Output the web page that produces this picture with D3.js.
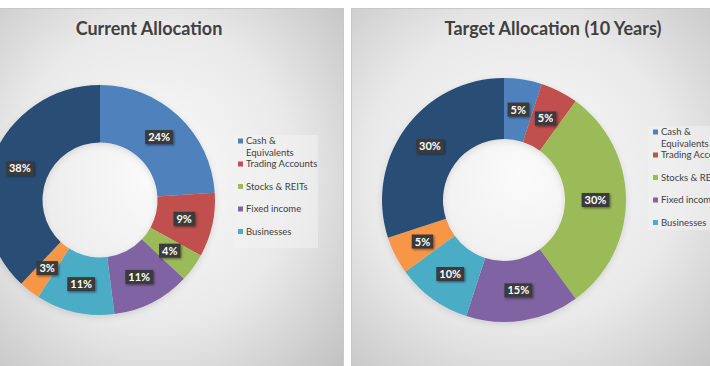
<!DOCTYPE html>
<html>
<head>
<meta charset="utf-8">
<script src="https://cdn.jsdelivr.net/npm/d3@7"></script>
<style>
  html, body { margin: 0; padding: 0; background: #ffffff; }
  svg { display: block; }
</style>
</head>
<body>
<svg id="chart" width="710" height="366"></svg>
<script>
// ---- data ----
const categories = ["Cash & Equivalents", "Trading Accounts", "Stocks & REITs", "Fixed income", "Businesses", "Category 6", "Category 7"];
const legendCategories = ["Cash & Equivalents", "Trading Accounts", "Stocks & REITs", "Fixed income", "Businesses"];
const currentValues = [24, 9, 4, 11, 11, 3, 38];
const targetValues = [5, 5, 30, 15, 10, 5, 30];
const chartTitles = ["Current Allocation", "Target Allocation (10 Years)"];

// ---- style ----
const colors = ["#4F81BD", "#C0504D", "#9BBB59", "#8064A2", "#4BACC6", "#F79646", "#2C4D75"];
const color = d3.scaleOrdinal().domain(categories).range(colors);
const FONT = "Lato, 'Open Sans', 'DejaVu Sans', sans-serif";

const svg = d3.select("#chart");
const defs = svg.append("defs");

const grad = defs.append("radialGradient").attr("id", "panelGrad")
  .attr("cx", "45%").attr("cy", "45%").attr("r", "75%");
grad.append("stop").attr("offset", "0%").attr("stop-color", "#fbfbfb");
grad.append("stop").attr("offset", "55%").attr("stop-color", "#e9e9e9");
grad.append("stop").attr("offset", "100%").attr("stop-color", "#c2c2c2");

const shadow = defs.append("filter").attr("id", "lblShadow")
  .attr("x", "-30%").attr("y", "-30%").attr("width", "170%").attr("height", "170%");
shadow.append("feDropShadow").attr("dx", 1.2).attr("dy", 1.2).attr("stdDeviation", 1)
  .attr("flood-color", "#000").attr("flood-opacity", 0.45);

const dshadow = defs.append("filter").attr("id", "donutShadow")
  .attr("x", "-20%").attr("y", "-20%").attr("width", "140%").attr("height", "140%");
dshadow.append("feDropShadow").attr("dx", 0).attr("dy", 2).attr("stdDeviation", 3)
  .attr("flood-color", "#000").attr("flood-opacity", 0.12);

const panels = [
  { title: chartTitles[0], values: currentValues,
    box: { x: -2, y: 8, w: 345, h: 370 }, titleX: 149,
    cx: 100, cy: 200, R: 115,
    legend: { x: 233, y: 135, w: 85, h: 113, firstY: 141 } },
  { title: chartTitles[1], values: targetValues,
    box: { x: 351, y: 8, w: 380, h: 370 }, titleX: 553,
    cx: 504, cy: 200, R: 122,
    legend: { x: 648, y: 126, w: 85, h: 104, firstY: 132 } }
];

function wrapWords(text, maxW, measure) {
  const words = text.split(" ");
  const lines = [];
  let cur = "";
  words.forEach(w => {
    const t = cur ? cur + " " + w : w;
    if (cur && measure(t) > maxW) { lines.push(cur); cur = w; } else cur = t;
  });
  if (cur) lines.push(cur);
  return lines;
}

panels.forEach(p => {
  const g = svg.append("g");
  g.append("rect")
    .attr("x", p.box.x + 0.5).attr("y", p.box.y + 0.5)
    .attr("width", p.box.w).attr("height", p.box.h)
    .attr("fill", "url(#panelGrad)")
    .attr("stroke", "#c8c8c8").attr("stroke-width", 1);

  g.append("text")
    .attr("x", p.titleX).attr("y", 35)
    .attr("text-anchor", "middle")
    .attr("font-family", FONT).attr("font-weight", "bold")
    .attr("font-size", 18).attr("fill", "#404040")
    .text(p.title);

  const data = categories.map((c, i) => ({ cat: c, value: p.values[i] }));
  const pie = d3.pie().sort(null).value(d => d.value);
  const arcs = pie(data);
  const r0 = p.R * 0.5;
  const arc = d3.arc().innerRadius(r0).outerRadius(p.R);
  const labelArc = d3.arc().innerRadius((r0 + p.R) / 2).outerRadius((r0 + p.R) / 2);

  const dg = g.append("g").attr("transform", `translate(${p.cx},${p.cy})`);
  dg.append("g").attr("filter", "url(#donutShadow)")
    .selectAll("path").data(arcs).join("path")
    .attr("d", arc)
    .attr("fill", d => color(d.data.cat));

  const lg = dg.selectAll("g.lbl").data(arcs).join("g").attr("class", "lbl")
    .attr("transform", d => `translate(${labelArc.centroid(d)})`);
  lg.each(function(d) {
    const sel = d3.select(this);
    const t = sel.append("text")
      .attr("text-anchor", "middle").attr("dy", "0.36em")
      .attr("font-family", FONT).attr("font-weight", "bold")
      .attr("font-size", 11).attr("fill", "#ffffff")
      .text(d.data.value + "%");
    const w = t.node().getComputedTextLength();
    sel.insert("rect", "text")
      .attr("x", -w / 2 - 3).attr("y", -7)
      .attr("width", w + 6).attr("height", 14)
      .attr("fill", "#3b3b3b")
      .attr("filter", "url(#lblShadow)");
  });

  // legend
  const L = p.legend;
  const leg = g.append("g");
  leg.append("rect").attr("x", L.x).attr("y", L.y).attr("width", L.w).attr("height", L.h)
    .attr("fill", "#f2f2f2").attr("fill-opacity", 0.55);
  const measureText = leg.append("text").attr("font-family", FONT).attr("font-size", 9.5);
  const measure = s => { measureText.text(s); return measureText.node().getComputedTextLength(); };
  legendCategories.forEach((c, i) => {
    const y = L.firstY + i * 22.5 + (i > 0 ? 0.5 : 0);
    const lines = wrapWords(c, 72, measure);
    leg.append("rect").attr("x", L.x + 5).attr("y", y - 2.5).attr("width", 5).attr("height", 5)
      .attr("fill", color(c));
    const t = leg.append("text").attr("x", L.x + 13).attr("y", y)
      .attr("font-family", FONT).attr("font-size", 9.5).attr("fill", "#404040");
    lines.forEach((ln, j) => {
      t.append("tspan").attr("x", L.x + 13).attr("dy", j === 0 ? "0.35em" : 11.5).text(ln);
    });
  });
  measureText.remove();
});
</script>
</body>
</html>
